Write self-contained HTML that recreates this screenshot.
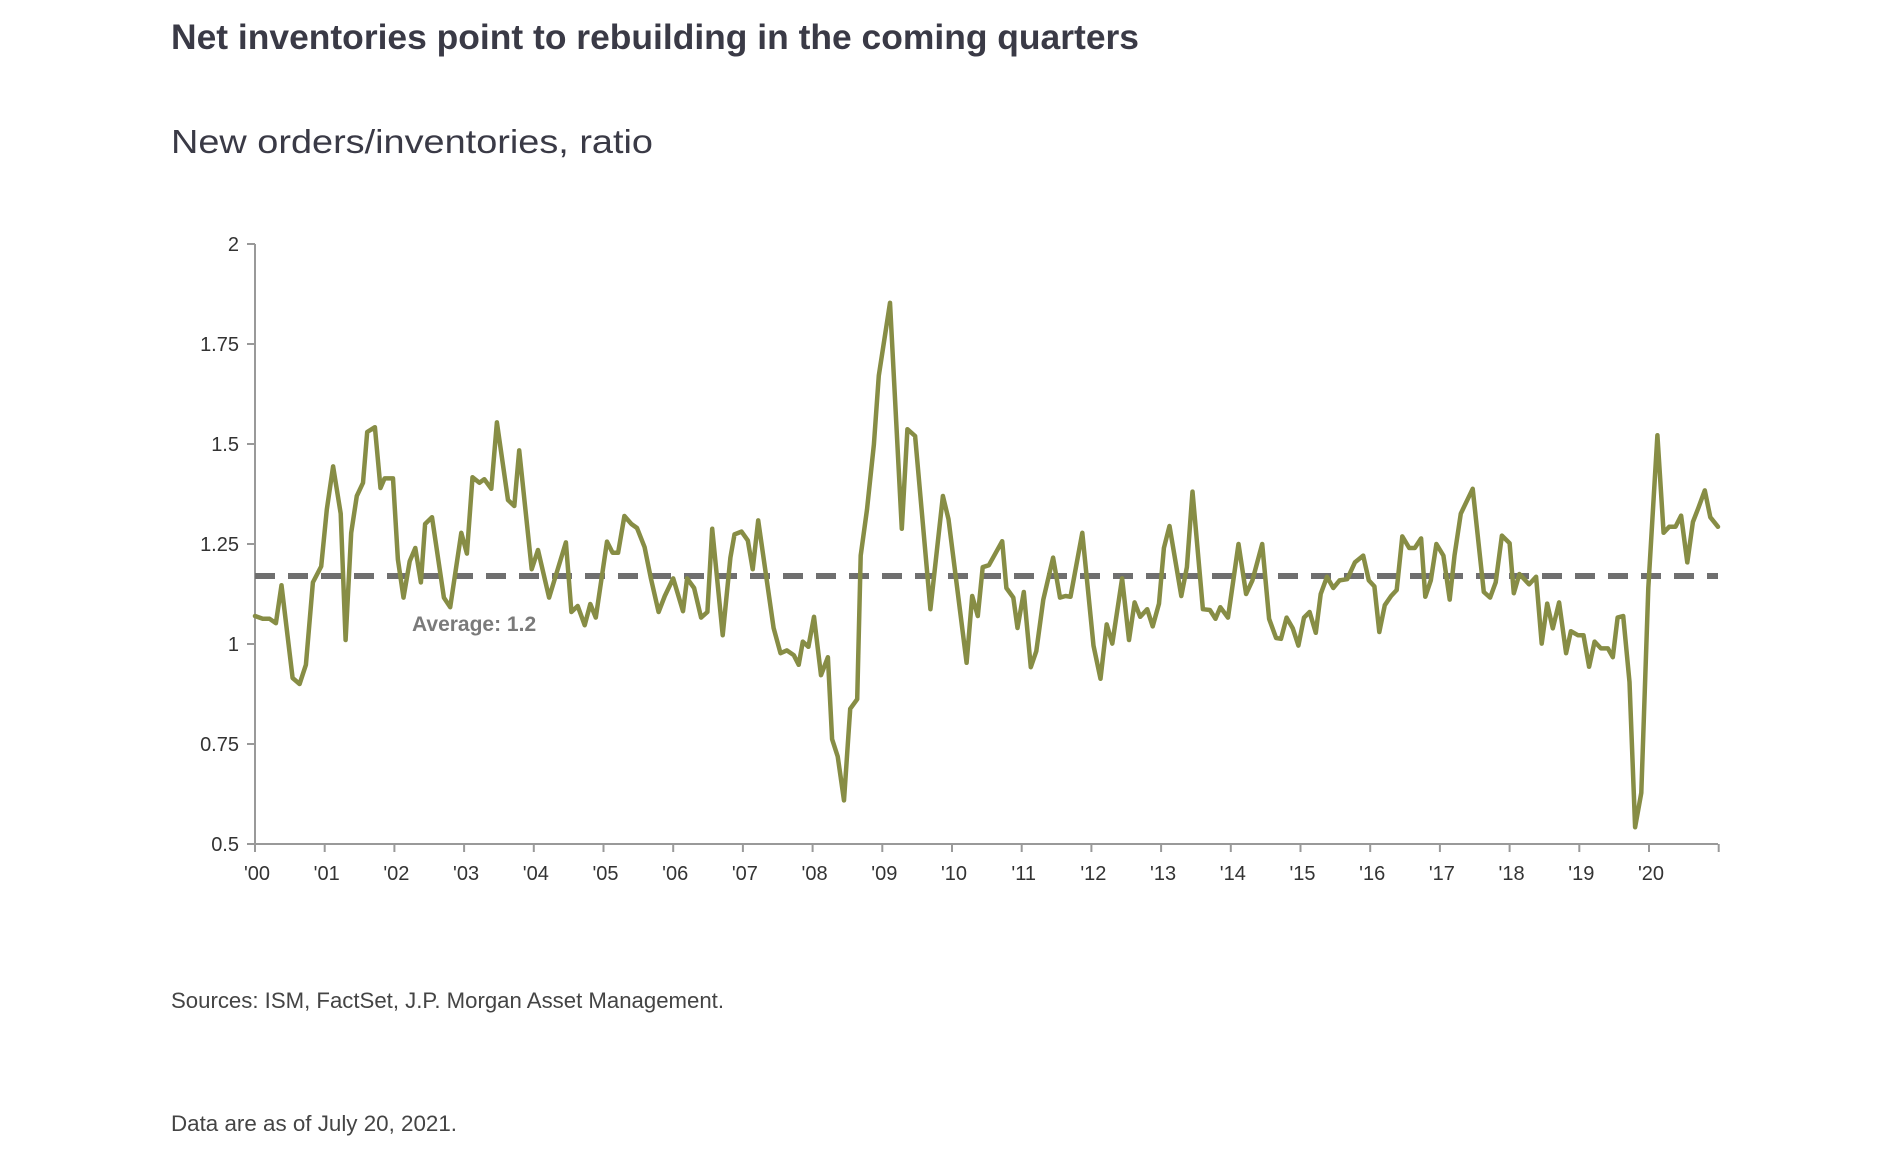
<!DOCTYPE html>
<html><head><meta charset="utf-8"><style>
html,body{margin:0;padding:0;background:#fff;width:1898px;height:1160px;overflow:hidden}
svg{display:block}
</style></head><body>
<svg id="chart" width="1898" height="1160" viewBox="0 0 1898 1160" xmlns="http://www.w3.org/2000/svg">
<text x="171" y="49" font-family="Liberation Sans, sans-serif" font-size="35" font-weight="bold" fill="#3a3a46" textLength="968" lengthAdjust="spacingAndGlyphs">Net inventories point to rebuilding in the coming quarters</text>
<text x="171" y="153" font-family="Liberation Sans, sans-serif" font-size="33" fill="#3a3a46" textLength="482" lengthAdjust="spacingAndGlyphs">New orders/inventories, ratio</text>
<text x="171" y="1008" font-family="Liberation Sans, sans-serif" font-size="22" fill="#444" textLength="553" lengthAdjust="spacingAndGlyphs">Sources: ISM, FactSet, J.P. Morgan Asset Management.</text>
<text x="171" y="1131" font-family="Liberation Sans, sans-serif" font-size="22" fill="#444" textLength="286" lengthAdjust="spacingAndGlyphs">Data are as of July 20, 2021.</text>
<g id="plot"></g>
</svg>
<script>
const years = [0.00,0.11,0.21,0.30,0.38,0.54,0.64,0.73,0.83,0.95,1.03,1.12,1.23,1.30,1.38,1.46,1.55,1.61,1.72,1.80,1.86,1.98,2.05,2.13,2.22,2.30,2.38,2.44,2.54,2.71,2.80,2.96,3.04,3.12,3.22,3.29,3.39,3.47,3.63,3.72,3.79,3.97,4.06,4.22,4.46,4.54,4.63,4.73,4.81,4.89,5.05,5.13,5.21,5.30,5.40,5.48,5.59,5.68,5.79,5.88,6.00,6.14,6.20,6.30,6.40,6.49,6.56,6.71,6.82,6.88,6.98,7.07,7.14,7.22,
7.44,7.54,7.63,7.73,7.80,7.86,7.94,8.02,8.12,8.22,8.28,8.36,8.45,8.54,8.64,8.69,8.78,8.88,8.95,9.11,9.28,9.36,9.47,9.69,9.87,9.95,10.21,10.29,10.37,10.44,10.53,10.72,10.78,10.88,10.94,11.03,11.13,11.21,11.31,11.45,11.55,11.63,11.70,11.87,12.03,12.13,12.22,12.30,12.44,12.54,12.62,12.70,12.80,12.88,12.97,13.04,13.12,13.29,13.37,13.45,13.60,13.70,13.78,13.85,13.96,14.11,14.22,14.31,14.45,
14.55,14.65,14.72,14.80,14.89,14.97,15.05,15.13,15.22,15.29,15.38,15.47,15.56,15.67,15.78,15.90,15.98,16.06,16.13,16.21,16.30,16.38,16.46,16.56,16.64,16.73,16.79,16.87,16.95,17.05,17.14,17.21,17.30,17.47,17.63,17.72,17.80,17.89,18.00,18.06,18.14,18.28,18.38,18.46,18.54,18.62,18.71,18.81,18.88,18.98,19.06,19.14,19.22,19.31,19.41,19.48,19.55,19.63,19.72,19.80,19.89,19.99,20.12,20.21,20.29,20.38,20.46,20.55,20.63,20.71,20.80,20.88,20.99];
const values = [1.07,1.063,1.063,1.052,1.147,0.915,0.90,0.948,1.154,1.194,1.336,1.444,1.326,1.01,1.278,1.37,1.403,1.53,1.542,1.39,1.414,1.414,1.211,1.116,1.207,1.24,1.154,1.30,1.317,1.116,1.092,1.278,1.226,1.417,1.403,1.412,1.388,1.554,1.36,1.345,1.484,1.187,1.235,1.116,1.254,1.08,1.095,1.047,1.10,1.066,1.256,1.228,1.228,1.32,1.30,1.29,1.242,1.164,1.08,1.12,1.164,1.082,1.164,1.14,1.066,1.08,1.288,1.022,1.216,1.274,1.281,1.259,1.187,1.309,
1.04,0.977,0.984,0.972,0.948,1.006,0.993,1.068,0.922,0.967,0.762,0.719,0.609,0.838,0.862,1.221,1.336,1.499,1.671,1.853,1.288,1.537,1.52,1.087,1.37,1.312,0.953,1.12,1.07,1.192,1.197,1.257,1.14,1.116,1.04,1.13,0.942,0.982,1.111,1.216,1.116,1.12,1.118,1.278,0.996,0.913,1.049,1.001,1.164,1.01,1.104,1.068,1.087,1.044,1.101,1.24,1.295,1.12,1.192,1.381,1.087,1.085,1.063,1.092,1.066,1.25,1.125,1.159,1.25,
1.063,1.015,1.013,1.066,1.039,0.996,1.066,1.08,1.028,1.125,1.168,1.14,1.159,1.162,1.204,1.221,1.159,1.144,1.03,1.097,1.12,1.135,1.269,1.24,1.24,1.264,1.118,1.159,1.25,1.221,1.111,1.221,1.326,1.388,1.13,1.116,1.154,1.271,1.252,1.127,1.175,1.149,1.168,1.001,1.101,1.039,1.104,0.977,1.032,1.022,1.022,0.943,1.006,0.989,0.989,0.967,1.066,1.07,0.905,0.542,0.628,1.14,1.522,1.278,1.293,1.293,1.321,1.204,1.305,1.341,1.384,1.317,1.293];
const yTicks = [0.5,0.75,1,1.25,1.5,1.75,2];
const yTickLabels = ["0.5","0.75","1","1.25","1.5","1.75","2"];
const xTicks = [0,1,2,3,4,5,6,7,8,9,10,11,12,13,14,15,16,17,18,19,20];
const xTickLabels = ["'00","'01","'02","'03","'04","'05","'06","'07","'08","'09","'10","'11","'12","'13","'14","'15","'16","'17","'18","'19","'20"];
const averageValue = [1.17];

const NS = "http://www.w3.org/2000/svg";
const X0 = 255, PXY = 69.7, XEND = 1718;
const xs = t => X0 + t * PXY;
const ys = v => 644 - (v - 1) * 400;
const plot = document.getElementById('plot');
function mk(tag, attrs){const e=document.createElementNS(NS,tag);for(const k in attrs)e.setAttribute(k,attrs[k]);plot.appendChild(e);return e;}

let e = mk('line',{x1:X0,y1:ys(2),x2:X0,y2:ys(0.5),stroke:'#999','stroke-width':2});


e = mk('line',{x1:X0,y1:ys(0.5),x2:XEND,y2:ys(0.5),stroke:'#999','stroke-width':2});



yTicks.forEach((v,i)=>{
  const t = mk('line',{x1:X0-8,y1:ys(v),x2:X0,y2:ys(v),stroke:'#999','stroke-width':2});
  
  
  const l = mk('text',{x:X0-16,y:ys(v)+7,'text-anchor':'end','font-family':'Liberation Sans, sans-serif','font-size':20,fill:'#333'});
  l.textContent = yTickLabels[i];
  
  
});
xTicks.concat([21]).forEach(t0=>{
  const t = mk('line',{x1:xs(t0),y1:ys(0.5),x2:xs(t0),y2:ys(0.5)+8,stroke:'#999','stroke-width':2});
  
  
});
xTicks.forEach((t0,i)=>{
  const l = mk('text',{x:xs(t0)+2,y:ys(0.5)+36,'text-anchor':'middle','font-family':'Liberation Sans, sans-serif','font-size':20,fill:'#333'});
  l.textContent = xTickLabels[i];
  
  
});

e = mk('line',{x1:X0,y1:ys(averageValue[0]),x2:XEND,y2:ys(averageValue[0]),stroke:'#6f6f6f','stroke-width':6,'stroke-dasharray':'20 13'});


e = mk('text',{x:412,y:ys(averageValue[0])+55,'font-family':'Liberation Sans, sans-serif','font-size':21,'font-weight':'bold',fill:'#7a7a7a'});
e.textContent = 'Average: ' + averageValue[0].toFixed(1);



const d = years.map((t,i)=>(i?'L':'M')+xs(t).toFixed(1)+','+ys(values[i]).toFixed(1)).join(' ');
e = mk('path',{d:d,fill:'none',stroke:'#878d45','stroke-width':4.5,'stroke-linejoin':'round','stroke-linecap':'round'});


</script>
</body></html>
